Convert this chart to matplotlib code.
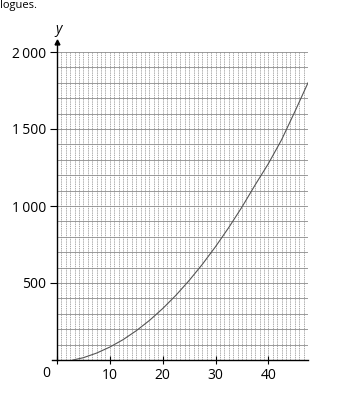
import matplotlib
matplotlib.use("Agg")
import matplotlib.pyplot as plt
import numpy as np

# data
x_vals = [3, 5, 7.5, 10, 12.5, 15, 17.5, 20, 22.5, 25, 27.5, 30, 32.5, 35, 37.5, 40, 42.5, 45, 47.5]
y_vals = [0, 15, 45, 84, 132, 190, 257, 334, 420, 516, 621, 736, 860, 993, 1137, 1275, 1430, 1612, 1800]
x_ticks = [0, 10, 20, 30, 40]
x_tick_labels = ["", "10", "20", "30", "40"]
y_ticks = [500, 1000, 1500, 2000]
y_tick_labels = ["500", "1\u2009000", "1\u2009500", "2\u2009000"]

plt.rcParams['font.family'] = ['Open Sans', 'DejaVu Sans']

fig = plt.figure(figsize=(3.52, 4.0), dpi=100)
ax = fig.add_axes([57/352, 1 - 360/400, (308 - 57)/352, (360 - 52)/400])
xmax = 47.5
ax.set_xlim(0, xmax)
ax.set_ylim(0, 2000)

# grid
for gx in np.arange(5/6, xmax + 0.01, 5/6):
    ax.plot([gx, gx], [0, 2000], color='#8c8c8c', lw=0.5, ls=(0, (2, 1.2)), zorder=1)
for gy in range(100, 2001, 100):
    ax.plot([0, xmax], [gy, gy], color='#8a8a8a', lw=0.6, zorder=1)

ax.plot(x_vals, y_vals, color='#555555', lw=0.8, zorder=3)

for s in ['top', 'right']:
    ax.spines[s].set_visible(False)
ax.spines['left'].set_bounds(0, 2050)
ax.spines['left'].set_linewidth(1.0)
ax.spines['bottom'].set_linewidth(1.0)
ax.plot([0], [2065], marker='^', color='black', markersize=3.5, clip_on=False, zorder=5)
ax.plot([-1, 0], [0, 0], color='black', lw=1.0, clip_on=False)

ax.set_xticks(x_ticks)
ax.set_xticklabels(x_tick_labels)
ax.set_yticks(y_ticks)
ax.set_yticklabels(y_tick_labels)
ax.tick_params(axis='x', direction='inout', length=6, width=0.8, labelsize=10, pad=3)
ax.tick_params(axis='y', direction='out', length=5, width=0.8, labelsize=10, pad=3)
ax.text(-1.2, -40, "0", ha='right', va='top', fontsize=10)
ax.text(0.2, 2100, "y", ha='center', va='bottom', fontsize=10, style='italic')

fig.text(0.0, 1.0, "logues.", ha='left', va='top', fontsize=8)

fig.savefig("out.png", dpi=100)
